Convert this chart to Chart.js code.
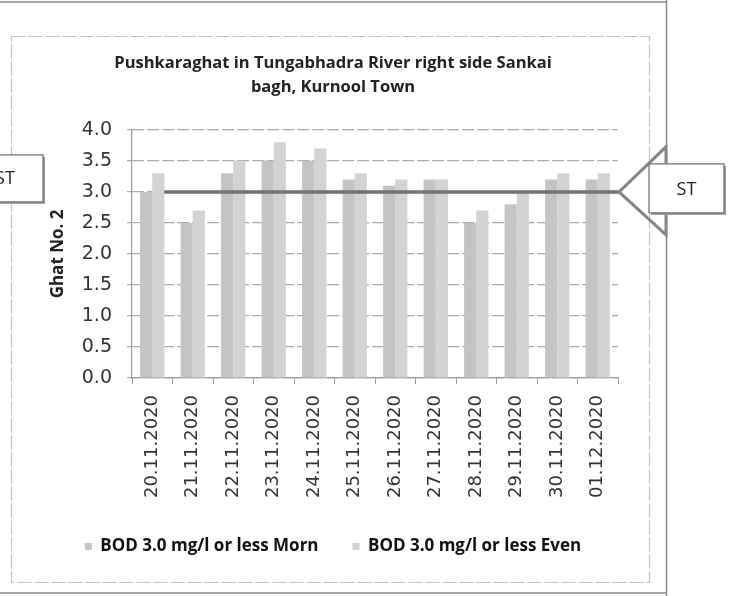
<!DOCTYPE html>
<html><head><meta charset="utf-8">
<script src="https://cdn.jsdelivr.net/npm/chart.js@4.4.0/dist/chart.umd.min.js"></script>
<style>html,body{margin:0;padding:0;background:#fff;}#wrap{position:relative;width:741px;height:596px;}canvas{display:block}</style>
</head><body><div id="wrap"><canvas id="c" width="741" height="596"></canvas></div>
<script>
const categories = ['20.11.2020','21.11.2020','22.11.2020','23.11.2020','24.11.2020','25.11.2020','26.11.2020','27.11.2020','28.11.2020','29.11.2020','30.11.2020','01.12.2020'];
const bodMorning = [3.0, 2.5, 3.3, 3.5, 3.5, 3.2, 3.1, 3.2, 2.5, 2.8, 3.2, 3.2];
const bodEvening = [3.3, 2.7, 3.5, 3.8, 3.7, 3.3, 3.2, 3.2, 2.7, 3.0, 3.3, 3.3];
const seriesNames = ['BOD 3.0 mg/l or less Morn', 'BOD 3.0 mg/l or less Even'];
const yTickValues = [0.0, 0.5, 1.0, 1.5, 2.0, 2.5, 3.0, 3.5, 4.0];
const standardLimit = 3.0;
const standardLabel = 'ST';
const chartTitle = ['Pushkaraghat in Tungabhadra River right side Sankai', 'bagh, Kurnool Town'];
const yAxisTitle = 'Ghat No. 2';

const boldFont = "'Open Sans', 'Noto Sans', sans-serif";
const tickFont = "'DejaVu Sans', sans-serif";

const framePlugin = {
  id: 'frames',
  beforeDraw(chart) {
    const ctx = chart.ctx;
    ctx.save();
    ctx.fillStyle = '#ffffff';
    ctx.fillRect(0, 0, chart.width, chart.height);
    ctx.strokeStyle = '#c4c4c4';
    ctx.lineWidth = 1.2;
    ctx.setLineDash([14, 3]);
    ctx.strokeRect(11.5, 36.5, 638, 546);
    ctx.setLineDash([]);
    ctx.strokeStyle = '#8a8a8a';
    ctx.lineWidth = 1.5;
    ctx.beginPath();
    ctx.moveTo(0, 2); ctx.lineTo(667, 2);
    ctx.moveTo(666.5, 0); ctx.lineTo(666.5, 596);
    ctx.moveTo(0, 593); ctx.lineTo(667, 593);
    ctx.stroke();
    ctx.restore();
  }
};

const standardPlugin = {
  id: 'standardLine',
  afterDatasetsDraw(chart) {
    const ctx = chart.ctx;
    const ys = chart.scales.y, xs = chart.scales.x, ca = chart.chartArea;
    const y = ys.getPixelForValue(standardLimit);
    const start = xs.getPixelForValue(0) + 12;
    const tip = ca.right + 1;
    ctx.save();
    ctx.strokeStyle = '#727272';
    ctx.lineWidth = 3.5;
    ctx.beginPath(); ctx.moveTo(start, y); ctx.lineTo(tip, y); ctx.stroke();

    ctx.strokeStyle = '#858585';
    ctx.lineWidth = 3;
    ctx.beginPath();
    ctx.moveTo(tip + 47, y - 29);
    ctx.lineTo(tip + 47, y - 45);
    ctx.lineTo(tip, y);
    ctx.lineTo(tip + 47, y + 43);
    ctx.lineTo(tip + 47, y + 21);
    ctx.stroke();
    const bx = tip + 30, by = y - 28, bw = 75, bh = 49;
    ctx.fillStyle = '#9a9a9a';
    ctx.fillRect(bx + 2, by + 2, bw, bh);
    ctx.fillStyle = '#ffffff';
    ctx.fillRect(bx, by, bw, bh);
    ctx.strokeStyle = '#6a6a6a';
    ctx.lineWidth = 1.2;
    ctx.strokeRect(bx, by, bw, bh);
    ctx.fillStyle = '#222';
    ctx.font = "18px " + boldFont;
    ctx.textAlign = 'center';
    ctx.textBaseline = 'middle';
    ctx.fillText(standardLabel, bx + bw / 2, y - 2);

    const lx = -32, ly = y - 37, lw = 75, lh = 47;
    ctx.fillStyle = '#9a9a9a';
    ctx.fillRect(lx + 2, ly + 2, lw, lh);
    ctx.fillStyle = '#ffffff';
    ctx.fillRect(lx, ly, lw, lh);
    ctx.strokeStyle = '#6a6a6a';
    ctx.strokeRect(lx, ly, lw, lh);
    ctx.fillStyle = '#222';
    ctx.fillText(standardLabel, 5, ly + lh / 2);
    ctx.restore();
  }
};

new Chart(document.getElementById('c'), {
  type: 'bar',
  data: {
    labels: categories,
    datasets: [
      { label: seriesNames[0], data: bodMorning, backgroundColor: '#c4c4c4', borderWidth: 0 },
      { label: seriesNames[1], data: bodEvening, backgroundColor: '#d3d3d3', borderWidth: 0 }
    ]
  },
  options: {
    responsive: false,
    animation: false,
    devicePixelRatio: 1,
    layout: { padding: { left: 48, right: 123, top: 0, bottom: 31 } },
    datasets: { bar: { categoryPercentage: 0.6, barPercentage: 1.0 } },
    plugins: {
      title: {
        display: true,
        text: chartTitle,
        color: '#222',
        font: { family: boldFont, size: 16.5, weight: 'bold', lineHeight: 1.45 },
        padding: { top: 51, bottom: 31 }
      },
      legend: {
        position: 'bottom',
        labels: {
          color: '#111',
          font: { family: boldFont, size: 17, weight: 'bold' },
          boxWidth: 7, boxHeight: 7, padding: 34
        }
      },
      tooltip: { enabled: false }
    },
    scales: {
      x: {
        grid: { drawOnChartArea: false, drawTicks: true, tickLength: 6, color: '#9a9a9a', offset: true },
        border: { color: '#9a9a9a', width: 1.2 },
        ticks: { color: '#333', font: { family: tickFont, size: 18 }, minRotation: 90, maxRotation: 90, autoSkip: false, padding: 11 },
        afterFit(s) { s.height = 126; }
      },
      y: {
        min: 0, max: 4,
        afterBuildTicks(s) { s.ticks = yTickValues.map(v => ({ value: v })); },
        grid: { color: '#ababab', lineWidth: 1.2, tickLength: 5 },
        border: { color: '#9a9a9a', width: 1.2, dash: [12, 3] },
        ticks: { autoSkip: false, color: '#333', font: { family: tickFont, size: 19 }, padding: 15, callback: v => Number(v).toFixed(1) },
        title: { display: true, text: yAxisTitle, color: '#222', font: { family: boldFont, size: 17, weight: 'bold', lineHeight: 1.2 }, padding: { top: 0, bottom: 0 } },
        afterFit(s) { s.width = 84; }
      }
    }
  },
  plugins: [framePlugin, standardPlugin]
});
</script>
</body></html>
